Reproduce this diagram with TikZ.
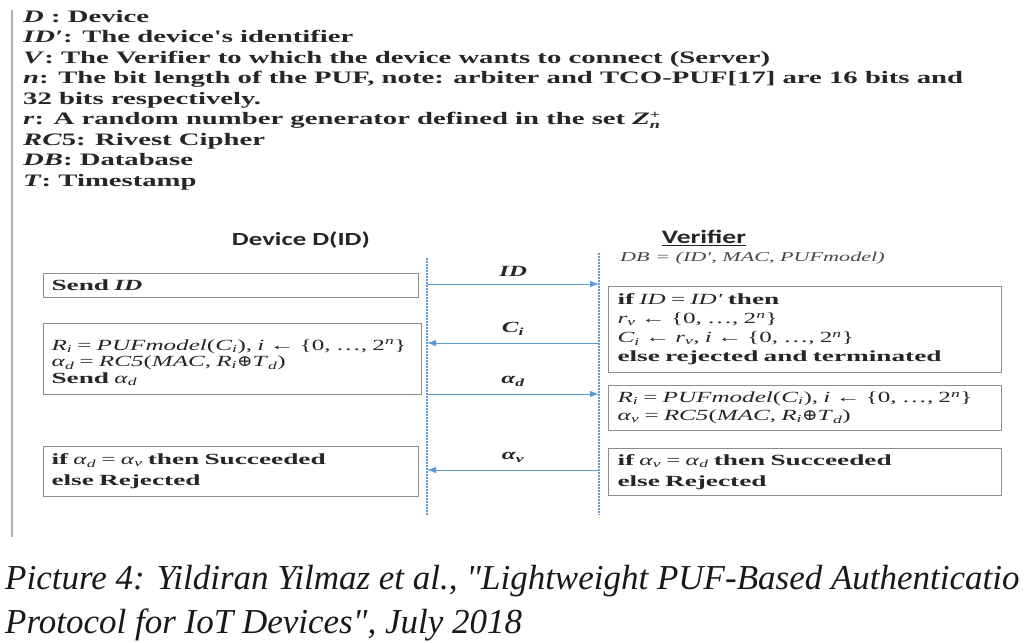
\documentclass[tikz,border=0pt]{standalone}
\usepackage{fontspec}
\setmainfont{Liberation Serif}
\newfontfamily\wserif[FakeStretch=1.64]{Liberation Serif}
\newfontfamily\bserif[FakeStretch=1.62]{Liberation Serif}
\newfontfamily\kwfont[FakeStretch=1.76]{Liberation Serif}
\newfontfamily\wsans[FakeStretch=1.45]{Carlito}
\newfontfamily\opfont[FakeStretch=1.2]{DejaVu Serif}
\newfontfamily\capfont{Liberation Serif}
\usetikzlibrary{arrows.meta}
\definecolor{lblue}{HTML}{5B9BD5}
\definecolor{boxgray}{HTML}{8C8C8C}
\definecolor{ink}{HTML}{262626}
\newcommand\myv[1]{\textit{#1}}
\newcommand\kw[1]{{\kwfont\bfseries #1}}
\newcommand\mysb[2]{\textit{#1}\textsubscript{\textit{#2}}}
\newcommand\mysupsub[2]{\makebox[0pt][l]{\raisebox{6.5pt}{\fontsize{11}{11}\selectfont #1}}\raisebox{-3.5pt}{\fontsize{11}{11}\selectfont\itshape #2}}
\newcommand\myxor{{\opfont ⊕}}
\newcommand\myset{\{0, …, 2\textsuperscript{\myv{n}}\}}
\tikzset{
  box/.style={draw=boxgray, line width=1pt, fill=white, inner ysep=0pt, inner xsep=8pt,
    align=left, text=ink, anchor=north west},
  boxfont/.style={font=\bserif\fontsize{15.5}{#1}\selectfont},
  lifeline/.style={draw=lblue, line width=2.4pt, dash pattern=on 1.6pt off 1.4pt},
  msg/.style={draw=lblue, line width=1pt, -{Latex[length=9pt,width=6.5pt]}},
  lbl/.style={above=4pt, text=ink, font=\bserif\bfseries\itshape\fontsize{15.5}{16}\selectfont},
}
\begin{document}
\begin{tikzpicture}[x=1pt,y=-1pt]
\useasboundingbox (0,0) rectangle (1024,642);
\fill[white] (0,0) rectangle (1024,642);
\clip (0,0) rectangle (1024,642);

% page edge line
\coordinate (edgetop) at (12,10);
\coordinate (edgebot) at (12,537);
\draw[black!30, line width=1.4pt] (edgetop) -- (edgebot);

% legend
\node[anchor=north west, align=left, inner sep=0pt, text=ink,
  font=\wserif\bfseries\fontsize{17.5}{20.5}\selectfont] (legend) at (23,10) {%
\myv{D} : Device\\
\myv{ID′}: The device's identifier\\
\myv{V}: The Verifier to which the device wants to connect (Server)\\
\myv{n}: The bit length of the PUF, note: arbiter and TCO-PUF[17] are 16 bits and\\
32 bits respectively.\\
\myv{r}: A random number generator defined in the set \myv{Z}\mysupsub{+}{n}\\
\myv{RC}5: Rivest Cipher\\
\myv{DB}: Database\\
\myv{T}: Timestamp};

% headers
\node[text=ink, font=\wsans\bfseries\fontsize{18.5}{20}\selectfont] (devhead) at (301,240) {Device D(ID)};
\node[text=ink, font=\wsans\bfseries\fontsize{19}{20}\selectfont] (verhead) at (704,238) {\underline{Verifier}};
\node[anchor=west, inner sep=0pt, text=ink!85, font=\wserif\itshape\fontsize{13.5}{15}\selectfont] (dbline) at (620,258)
  {\myv{DB} = (\myv{ID′}, \myv{MAC}, \myv{PUFmodel})};

% lifelines
\coordinate (dtop) at (427,258);
\coordinate (dbot) at (427,515);
\coordinate (vtop) at (599,253);
\coordinate (vbot) at (599,515);
\draw[lifeline] (dtop) -- (dbot);
\draw[lifeline] (vtop) -- (vbot);

% device boxes
\node[box, boxfont=17, text width=359pt, minimum height=24pt] (dsend) at (43,273)
  {\kw{Send} \textbf{\textit{ID}}};
\node[box, boxfont=16.5, text width=362pt, minimum height=71pt] (dcalc) at (43,323)
  {\rule{0pt}{18pt}\mbox{\mysb{R}{i} = \myv{PUFmodel}(\mysb{C}{i}), \myv{i} ← \myset}\\
   \mysb{α}{d} = \myv{RC5}(\myv{MAC}, \mysb{R}{i}\myxor\mysb{T}{d})\\
   \kw{Send} \mysb{α}{d}};
\node[box, boxfont=21, text width=359pt, minimum height=50pt] (dres) at (43,446)
  {\kw{if} \mysb{α}{d} = \mysb{α}{v} \kw{then Succeeded}\\
   \kw{else Rejected}};

% verifier boxes
\node[box, boxfont=19, inner xsep=9pt, text width=375pt, minimum height=86pt] (vcheck) at (608,286)
  {\kw{if} \myv{ID} = \myv{ID′} \kw{then}\\
   \mysb{r}{v} ← \myset\\
   \mysb{C}{i} ← \mysb{r}{v}, \myv{i} ← \myset\\
   \kw{else rejected and terminated}};
\node[box, boxfont=18, inner xsep=9pt, text width=375pt, minimum height=45pt] (vcalc) at (608,385)
  {\mbox{\mysb{R}{i} = \myv{PUFmodel}(\mysb{C}{i}), \myv{i} ← \myset}\\
   \mysb{α}{v} = \myv{RC5}(\myv{MAC}, \mysb{R}{i}\myxor\mysb{T}{d})};
\node[box, boxfont=21, inner xsep=9pt, text width=375pt, minimum height=47pt] (vres) at (608,448)
  {\kw{if} \mysb{α}{v} = \mysb{α}{d} \kw{then Succeeded}\\
   \kw{else Rejected}};

% messages
\coordinate (d1) at (427,284); \coordinate (v1) at (599,284);
\coordinate (d2) at (427,343); \coordinate (v2) at (599,343);
\coordinate (d3) at (427,394); \coordinate (v3) at (599,394);
\coordinate (d4) at (427,470); \coordinate (v4) at (599,470);
\draw[msg] (d1) -- node[lbl] (lid) {ID} (v1);
\draw[msg] (v2) -- node[lbl] (lci) {\mysb{C}{i}} (d2);
\draw[msg] (d3) -- node[lbl] (lad) {\mysb{α}{d}} (v3);
\draw[msg] (v4) -- node[lbl] (lav) {\mysb{α}{v}} (d4);

% caption
\node[anchor=west, align=left, inner sep=0pt, text=black!90,
  font=\capfont\itshape\fontsize{35}{44}\selectfont] (caption) at (5,603)
  {Picture 4: Yildiran Yilmaz et al., "Lightweight PUF-Based Authenticatio\\
   Protocol for IoT Devices", July 2018};
\end{tikzpicture}
\end{document}
